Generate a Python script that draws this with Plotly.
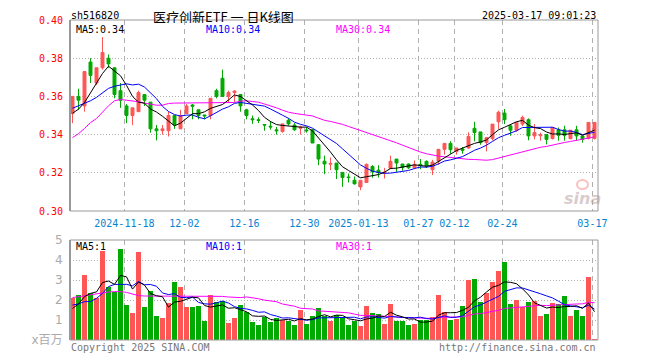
import math
import plotly.graph_objects as go
import pandas as pd

# ---------------- data ----------------
symbol = "sh516820"
title_text = "医疗创新ETF 一 日K线图"
stamp = "2025-03-17 09:01:23"

tick_idx = [9, 19, 29, 39, 48, 58, 64, 72, 87]
tick_labels = ["2024-11-18", "12-02", "12-16", "12-30", "2025-01-13",
               "01-27", "02-12", "02-24", "03-17"]

opens = [0.351, 0.360, 0.355, 0.378, 0.367, 0.375, 0.380, 0.375, 0.363, 0.355,
         0.350, 0.352, 0.361, 0.357, 0.343, 0.342, 0.342, 0.350, 0.343, 0.351,
         0.3555, 0.353, 0.3503, 0.350, 0.363, 0.3695, 0.360, 0.362, 0.361, 0.353,
         0.3483, 0.3478, 0.3453, 0.3444, 0.3425, 0.3416, 0.3475, 0.345, 0.3433, 0.3424,
         0.3425, 0.3347, 0.3261, 0.3245, 0.3251, 0.3202, 0.3178, 0.3161, 0.3126, 0.3149,
         0.3233, 0.3214, 0.3198, 0.3223, 0.3272, 0.3246, 0.3246, 0.3226, 0.3244, 0.326,
         0.3216, 0.3261, 0.3323, 0.3354, 0.3312, 0.3325, 0.333, 0.3433, 0.3414, 0.3358,
         0.3379, 0.3467, 0.3513, 0.3446, 0.3423, 0.3455, 0.3478, 0.3393, 0.3394, 0.340,
         0.3379, 0.3425, 0.3425, 0.3379, 0.3425, 0.3393, 0.338, 0.338]
highs = [0.360, 0.364, 0.373, 0.380, 0.375, 0.391, 0.382, 0.375, 0.367, 0.356,
         0.354, 0.363, 0.361, 0.357, 0.345, 0.345, 0.352, 0.350, 0.353, 0.356,
         0.356, 0.353, 0.3503, 0.359, 0.364, 0.374, 0.363, 0.3632, 0.361, 0.3535,
         0.350, 0.349, 0.3455, 0.347, 0.344, 0.3456, 0.3486, 0.346, 0.3447, 0.344,
         0.343, 0.335, 0.329, 0.328, 0.3251, 0.3202, 0.3196, 0.3181, 0.3161, 0.3249,
         0.324, 0.324, 0.3226, 0.329, 0.3272, 0.3246, 0.3249, 0.3265, 0.3272, 0.3265,
         0.3268, 0.3323, 0.3354, 0.3365, 0.333, 0.3335, 0.3412, 0.3467, 0.3414, 0.3388,
         0.3455, 0.3525, 0.3534, 0.3455, 0.3464, 0.3499, 0.3485, 0.3455, 0.341, 0.340,
         0.3437, 0.3437, 0.3446, 0.3423, 0.3446, 0.3393, 0.3464, 0.3464]
lows = [0.346, 0.353, 0.352, 0.367, 0.366, 0.374, 0.375, 0.359, 0.354, 0.346,
        0.345, 0.352, 0.355, 0.341, 0.337, 0.340, 0.339, 0.343, 0.343, 0.351,
        0.348, 0.348, 0.348, 0.348, 0.359, 0.360, 0.357, 0.357, 0.352, 0.348,
        0.3456, 0.346, 0.342, 0.3426, 0.340, 0.341, 0.3447, 0.342, 0.340, 0.341,
        0.3356, 0.324, 0.3193, 0.3214, 0.3167, 0.3126, 0.3149, 0.3139, 0.3109, 0.3149,
        0.3174, 0.3175, 0.317, 0.3219, 0.3205, 0.3211, 0.3219, 0.3219, 0.3219, 0.3225,
        0.3188, 0.3242, 0.3295, 0.330, 0.3295, 0.330, 0.3325, 0.3365, 0.3347, 0.3312,
        0.337, 0.343, 0.3455, 0.3394, 0.3415, 0.3445, 0.337, 0.3375, 0.3368, 0.3349,
        0.3375, 0.3368, 0.3368, 0.3375, 0.3368, 0.3358, 0.3375, 0.3375]
closes = [0.360, 0.358, 0.373, 0.371, 0.375, 0.383, 0.377, 0.361, 0.358, 0.350,
          0.354, 0.362, 0.358, 0.343, 0.342, 0.343, 0.350, 0.345, 0.350, 0.355,
          0.3548, 0.350, 0.3498, 0.359, 0.360, 0.360, 0.362, 0.3628, 0.355, 0.350,
          0.3478, 0.3474, 0.345, 0.344, 0.342, 0.3456, 0.3456, 0.3425, 0.3439, 0.342,
          0.3356, 0.3272, 0.3246, 0.3249, 0.3216, 0.3175, 0.3175, 0.3142, 0.3161, 0.3244,
          0.3205, 0.3202, 0.3203, 0.326, 0.3251, 0.3228, 0.3226, 0.3244, 0.324, 0.3235,
          0.3256, 0.3323, 0.3354, 0.3321, 0.333, 0.3318, 0.339, 0.3411, 0.3358, 0.3384,
          0.3455, 0.3517, 0.3478, 0.3423, 0.3464, 0.349, 0.3393, 0.3411, 0.3399, 0.3375,
          0.3437, 0.3396, 0.3396, 0.3423, 0.3393, 0.3375, 0.3464, 0.3464]
volumes = [2.12, 2.25, 3.25, 2.33, 2.08, 4.45, 2.63, 2.42, 4.55, 1.75,
           1.37, 4.4, 1.65, 2.45, 1.2, 1.1, 1.83, 2.9, 2.65, 1.65,
           1.65, 1.7, 0.97, 2.25, 1.9, 1.95, 0.87, 1.1, 1.75, 1.4,
           0.92, 0.75, 1.17, 0.92, 1.12, 1.0, 0.97, 0.75, 1.5, 0.82,
           1.2, 1.6, 1.2, 0.97, 1.25, 1.13, 0.75, 0.97, 0.7, 1.7,
           1.35, 1.3, 0.8, 1.8, 0.95, 0.95, 0.75, 0.8, 1.0, 1.0,
           1.15, 2.25, 1.42, 1.0, 1.05, 1.7, 3.0, 3.05, 1.9, 2.35,
           2.9, 3.45, 3.92, 1.8, 2.0, 1.63, 1.92, 1.95, 1.2, 1.3,
           1.87, 1.8, 2.2, 1.2, 1.5, 1.2, 3.15, 0.03]

# moving-average values at the left edge (history before the window)
ma5_lead = [0.3512, 0.3533, 0.3568, 0.3621]
ma10_lead = [0.3538, 0.3551, 0.3565, 0.3577, 0.3595, 0.3621, 0.3642, 0.3653, 0.3660]
ma30_lead = [0.3384, 0.3405, 0.3432, 0.3463, 0.3484, 0.3519, 0.3551, 0.3577, 0.3584, 0.3580,
             0.3577, 0.3572, 0.3565, 0.3558, 0.3554, 0.3554, 0.3563, 0.3565, 0.3565, 0.3565,
             0.3565, 0.3565, 0.3565, 0.3565, 0.3565, 0.3565, 0.3566, 0.3568, 0.3575]
vma5_lead = [1.58, 1.80, 2.17, 2.33]
vma10_lead = [1.75, 1.80, 1.92, 1.92, 2.08, 2.33, 2.67, 2.78, 2.78]
vma30_lead = [2.12, 2.17, 2.22, 2.28, 2.33, 2.37, 2.40, 2.42, 2.42, 2.38,
              2.30, 2.22, 2.20, 2.20, 2.20, 2.20, 2.20, 2.20, 2.20, 2.20,
              2.20, 2.20, 2.20, 2.20, 2.20, 2.18, 2.15, 2.13, 2.12]

price_ticks = [0.30, 0.32, 0.34, 0.36, 0.38, 0.40]
vol_ticks = [0, 1, 2, 3, 4, 5]
vol_tick_text = ["x百万", "1", "2", "3", "4", "5"]

# ---------------- helpers ----------------
def moving_average(values, window, lead):
    s = pd.Series(values, dtype=float).rolling(window).mean()
    s.iloc[:window - 1] = lead
    return s.tolist()

n = len(closes)
x = list(range(n))
ma5 = moving_average(closes, 5, ma5_lead)
ma10 = moving_average(closes, 10, ma10_lead)
ma30 = moving_average(closes, 30, ma30_lead)
vma5 = moving_average(volumes, 5, vma5_lead)
vma10 = moving_average(volumes, 10, vma10_lead)
vma30 = moving_average(volumes, 30, vma30_lead)

RED = "#ff5555"
GREEN = "#00aa00"
vol_colors = [RED if c > o else GREEN for o, c in zip(opens, closes)]

# the page body adds an 8px offset; the figure is sized so that the
# plot areas land at page x 70..598, y 20..340
OFF = 8
W, H = 660 - OFF, 360 - OFF
L, T = 70 - OFF, 20 - OFF
PW, PH = 528, 320
R = W - L - PW
B = H - T - PH

def px(xp):
    return (xp - 70) / PW

def py(yp):
    return (340 - yp) / PH

x0 = -(72.5 - 70) / 6.0
x1 = x0 + PW / 6.0

MONO = "DejaVu Sans Mono"

fig = go.Figure()
fig.add_trace(go.Candlestick(
    x=x, open=opens, high=highs, low=lows, close=closes,
    increasing=dict(line=dict(color=RED, width=1), fillcolor=RED),
    decreasing=dict(line=dict(color=GREEN, width=1), fillcolor=GREEN),
    whiskerwidth=0, showlegend=False, hoverinfo="skip", xaxis="x", yaxis="y"))
for ys, col in [(ma30, "#ff00ff"), (ma10, "#0000ff"), (ma5, "#000000")]:
    fig.add_trace(go.Scatter(x=x, y=ys, mode="lines", line=dict(color=col, width=1),
                             showlegend=False, hoverinfo="skip", xaxis="x", yaxis="y"))

fig.add_trace(go.Bar(x=x, y=volumes, marker=dict(color=vol_colors, line=dict(width=0)),
                     width=0.84, showlegend=False, hoverinfo="skip", xaxis="x2", yaxis="y2"))
for ys, col in [(vma30, "#ff00ff"), (vma10, "#0000ff"), (vma5, "#000000")]:
    fig.add_trace(go.Scatter(x=x, y=ys, mode="lines", line=dict(color=col, width=1),
                             showlegend=False, hoverinfo="skip", xaxis="x2", yaxis="y2"))

grid_x = [t - 0.35 for t in tick_idx]
common_x = dict(range=[x0, x1], tickmode="array", tickvals=grid_x, showgrid=True,
                gridcolor="#b0b0b0", gridwidth=1, griddash="5px,4px", zeroline=False,
                showline=False, fixedrange=True, ticks="outside", ticklen=3,
                tickcolor="rgba(0,0,0,0)", automargin=False)

fig.update_layout(
    width=W, height=H, margin=dict(l=L, r=R, t=T, b=B, autoexpand=False),
    paper_bgcolor="white", plot_bgcolor="white", bargap=0,
    xaxis=dict(domain=[0, 1], anchor="y", ticktext=tick_labels,
               tickfont=dict(family=MONO, size=10, color="#0a84d0"),
               rangeslider=dict(visible=False), **common_x),
    xaxis2=dict(domain=[0, 1], anchor="y2", showticklabels=False, **common_x),
    yaxis=dict(domain=[py(211), 1], range=[0.30, 0.40], tickmode="array",
               tickvals=price_ticks, ticktext=["%.2f" % v for v in price_ticks],
               showgrid=True, gridcolor="#b0b0b0", griddash="1px,2px", zeroline=False,
               tickfont=dict(family=MONO, size=10, color="#ff0000"),
               ticks="outside", ticklen=4, tickcolor="rgba(0,0,0,0)", fixedrange=True,
               automargin=False),
    yaxis2=dict(domain=[0, py(240)], range=[0, 5], tickmode="array",
                tickvals=vol_ticks, ticktext=vol_tick_text,
                showgrid=True, gridcolor="#b0b0b0", griddash="1px,2px", zeroline=False,
                tickfont=dict(family="DejaVu Sans, Noto Sans CJK SC", size=12, color="#aaaaaa"),
                ticks="outside", ticklen=4, tickcolor="rgba(0,0,0,0)", fixedrange=True,
                automargin=False),
)

shapes = []
for xr, yr in [("x domain", "y domain"), ("x2 domain", "y2 domain")]:
    shapes.append(dict(type="rect", xref=xr, yref=yr, x0=0, x1=1, y0=0, y1=1,
                       line=dict(color="#999999", width=1), fillcolor="rgba(0,0,0,0)",
                       layer="above"))
    shapes.append(dict(type="line", xref=xr, yref=yr, x0=0, x1=0, y0=0, y1=1,
                       line=dict(color="#999999", width=2), layer="above"))
# small eye mark of the watermark
shapes.append(dict(type="circle", xref="paper", yref="paper",
                   x0=px(577), x1=px(588), y0=py(189), y1=py(180),
                   line=dict(color="rgba(235,120,120,0.45)", width=2),
                   fillcolor="rgba(0,0,0,0)", layer="below"))
fig.update_layout(shapes=shapes)

def ann(text, xp, yp, color="#000", size=10, anchor="left", family=MONO, **kw):
    return dict(text=text, x=px(xp), y=py(yp), xref="paper", yref="paper",
                xanchor=anchor, yanchor="middle", showarrow=False,
                font=dict(family=family, size=size, color=color), **kw)

annotations = [
    ann(symbol, 69, 15),
    ann(title_text, 223, 16, size=13, anchor="center", family="Noto Sans CJK SC",
        height=14, valign="middle"),
    ann(stamp, 598, 15, anchor="right"),
    ann("MA5:%.2f" % ma5[-1], 74, 29.5),
    ann("MA10:%.2f" % ma10[-1], 204, 29.5, color="#0000ff"),
    ann("MA30:%.2f" % ma30[-1], 334, 29.5, color="#ff00ff"),
    ann("MA5:%d" % math.floor(vma5[-1]), 74, 246),
    ann("MA10:%d" % math.floor(vma10[-1]), 204, 246, color="#0000ff"),
    ann("MA30:%d" % math.floor(vma30[-1]), 334, 246, color="#ff00ff"),
    ann("Copyright 2025 SINA.COM", 69, 347, color="#777777"),
    ann("http://finance.sina.com.cn", 598, 347, color="#777777", anchor="right"),
    dict(text="sina", x=px(582), y=py(198), xref="paper", yref="paper",
         xanchor="center", yanchor="middle", showarrow=False,
         font=dict(family="DejaVu Sans", size=16, color="rgba(185,160,160,0.55)",
                   style="italic", weight="bold")),
]
fig.update_layout(annotations=annotations)

fig.write_html("out.html")
